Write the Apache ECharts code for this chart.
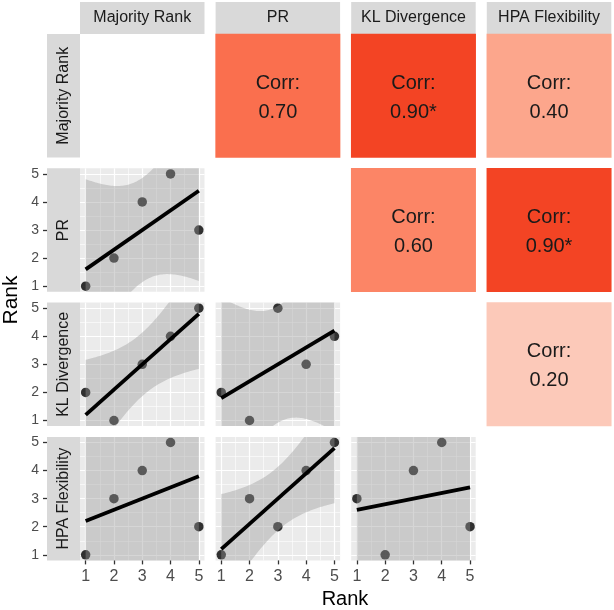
<!DOCTYPE html>
<html>
<head>
<meta charset="utf-8">
<script src="https://cdn.jsdelivr.net/npm/echarts@6/dist/echarts.min.js"></script>
<style>
  html, body { margin: 0; padding: 0; background: #fff; }
  #chart { width: 614px; height: 610px; }
</style>
</head>
<body>
<div id="chart"></div>
<script>
// rank given to each of the 5 configs by every method
const vars = ['Majority Rank', 'PR', 'KL Divergence', 'HPA Flexibility'];
const majority = [1, 2, 3, 4, 5];
const pr = [1, 2, 4, 5, 3];
const kl = [2, 1, 3, 4, 5];
const hpa = [1, 3, 4, 5, 2];
const rankTicks = [1, 2, 3, 4, 5];
const minorTicks = [1.5, 2.5, 3.5, 4.5];
const cols = [majority, pr, kl, hpa];

const T_CRIT = 3.182446; // qt(0.975, df = 3)
const FONT = 'Liberation Sans, Arial, sans-serif';

// panel layout (px)
const L0 = 80, T0 = 34, STEP_X = 135.6, STEP_Y = 134.3, PW = 124.5, PH = 123.5;

function mean(a) { return a.reduce((s, v) => s + v, 0) / a.length; }

function corr(x, y) {
  const mx = mean(x), my = mean(y);
  let sxy = 0, sxx = 0, syy = 0;
  for (let i = 0; i < x.length; i++) {
    sxy += (x[i] - mx) * (y[i] - my);
    sxx += (x[i] - mx) * (x[i] - mx);
    syy += (y[i] - my) * (y[i] - my);
  }
  return sxy / Math.sqrt(sxx * syy);
}

// lm(y ~ x) with 95% confidence band, like geom_smooth(method = "lm")
function lmFit(x, y) {
  const n = x.length, mx = mean(x), my = mean(y);
  let sxy = 0, sxx = 0;
  for (let i = 0; i < n; i++) {
    sxy += (x[i] - mx) * (y[i] - my);
    sxx += (x[i] - mx) * (x[i] - mx);
  }
  const b = sxy / sxx, a = my - b * mx;
  let sse = 0;
  for (let i = 0; i < n; i++) sse += Math.pow(y[i] - a - b * x[i], 2);
  const s = Math.sqrt(sse / (n - 2));
  const x0 = Math.min(...x), x1 = Math.max(...x);
  const band = [];
  for (let k = 0; k <= 80; k++) {
    const xv = x0 + (x1 - x0) * k / 80;
    const fv = a + b * xv;
    const se = s * Math.sqrt(1 / n + Math.pow(xv - mx, 2) / sxx);
    band.push([xv, fv - T_CRIT * se, fv + T_CRIT * se]);
  }
  return { line: [[x0, a + b * x0], [x1, a + b * x1]], band: band };
}

function stars(r, n) {
  const t = Math.abs(r) * Math.sqrt(n - 2) / Math.sqrt(1 - r * r);
  return t > T_CRIT ? '*' : '';
}

const option = {
  animation: false,
  grid: [], xAxis: [], yAxis: [], series: [], graphic: [],
  visualMap: {
    type: 'continuous', show: false, min: 0, max: 1, dimension: 2, seriesIndex: [],
    inRange: { color: ['#fdece4', '#fcc9b9', '#fca68c', '#fc8566', '#f85836', '#ee3012'] }
  }
};

const tickStyle = { show: true, length: 4, lineStyle: { color: '#333333', width: 1.3 } };

for (let r = 0; r < 4; r++) {
  for (let c = 0; c < 4; c++) {
    if (r === c) continue;
    const g = option.grid.length;
    const left = L0 + STEP_X * c, top = T0 + STEP_Y * r;
    if (r > c) {
      option.grid.push({ left: left, top: top, width: PW, height: PH, show: true,
        backgroundColor: '#ebebeb', borderWidth: 0 });
      const xi = option.xAxis.length, yi = option.yAxis.length;
      // major axes (ticks, labels, major grid lines)
      option.xAxis.push({
        gridIndex: g, type: 'value', min: 0.8, max: 5.2,
        axisLine: { show: false },
        axisTick: Object.assign({}, tickStyle, { show: r === 3, customValues: rankTicks }),
        axisLabel: { show: r === 3, customValues: rankTicks, color: '#4d4d4d', fontSize: 16,
          fontFamily: FONT, margin: 8 },
        splitLine: { show: true, lineStyle: { color: '#ffffff', width: 1.2 } }
      });
      option.yAxis.push({
        gridIndex: g, type: 'value', min: 0.8, max: 5.2, offset: 33,
        axisLine: { show: false },
        axisTick: Object.assign({}, tickStyle, { show: c === 0, customValues: rankTicks }),
        axisLabel: { show: c === 0, customValues: rankTicks, color: '#4d4d4d', fontSize: 14,
          fontFamily: FONT, margin: 8 },
        splitLine: { show: true, lineStyle: { color: '#ffffff', width: 1.2 } }
      });
      // minor grid lines
      option.xAxis.push({
        gridIndex: g, type: 'value', position: 'top', min: 0.8, max: 5.2,
        axisLine: { show: false }, axisLabel: { show: false },
        axisTick: { show: false, customValues: minorTicks },
        splitLine: { show: true, lineStyle: { color: '#ffffff', width: 0.6 } }
      });
      option.yAxis.push({
        gridIndex: g, type: 'value', position: 'right', min: 0.8, max: 5.2,
        axisLine: { show: false }, axisLabel: { show: false },
        axisTick: { show: false, customValues: minorTicks },
        splitLine: { show: true, lineStyle: { color: '#ffffff', width: 0.6 } }
      });

      const xs = cols[c], ys = cols[r];
      const f = lmFit(xs, ys);
      option.series.push({
        type: 'scatter', xAxisIndex: xi, yAxisIndex: yi, z: 2,
        data: xs.map((v, i) => [v, ys[i]]),
        symbolSize: 9.5, itemStyle: { color: '#000000' }, emphasis: { disabled: true }, silent: true
      });
      option.series.push({
        type: 'custom', xAxisIndex: xi, yAxisIndex: yi, z: 3, clip: true, silent: true,
        data: f.band,
        encode: { x: 0, y: [1, 2] },
        renderItem: function (params, api) {
          if (params.dataIndex !== 0) return null;
          const pts = [];
          f.band.forEach(p => pts.push(api.coord([p[0], p[2]])));
          for (let k = f.band.length - 1; k >= 0; k--) pts.push(api.coord([f.band[k][0], f.band[k][1]]));
          return { type: 'polygon', shape: { points: pts }, style: { fill: 'rgba(153,153,153,0.4)' } };
        }
      });
      option.series.push({
        type: 'line', xAxisIndex: xi, yAxisIndex: yi, z: 4, data: f.line,
        symbol: 'none', lineStyle: { color: '#000000', width: 3.8 }, silent: true
      });
    } else {
      option.grid.push({ left: left, top: top, width: PW, height: PH, show: false });
      const xi = option.xAxis.length, yi = option.yAxis.length;
      option.xAxis.push({ gridIndex: g, type: 'category', data: [''], show: false });
      option.yAxis.push({ gridIndex: g, type: 'category', data: [''], show: false });
      const rv = corr(cols[c], cols[r]);
      option.visualMap.seriesIndex.push(option.series.length);
      option.series.push({
        type: 'heatmap', xAxisIndex: xi, yAxisIndex: yi, silent: true,
        data: [[0, 0, rv]],
        emphasis: { disabled: true },
        label: {
          show: true, color: '#1a1a1a', fontSize: 20, lineHeight: 29, fontFamily: FONT, offset: [0, 2],
          formatter: p => 'Corr:\n' + p.value[2].toFixed(2) + stars(p.value[2], cols[0].length)
        }
      });
    }
  }
}

// facet strips
vars.forEach((name, i) => {
  const x = L0 + STEP_X * i;
  option.graphic.push({ type: 'rect', left: x, top: 2, shape: { width: PW, height: 32 },
    style: { fill: '#d9d9d9' }, silent: true });
  option.graphic.push({ type: 'text', x: x + PW / 2, y: 18,
    style: { text: name, fill: '#1a1a1a', font: '16px ' + FONT, textAlign: 'center', textVerticalAlign: 'middle' } });
  const y = T0 + STEP_Y * i;
  option.graphic.push({ type: 'rect', left: 47, top: y, shape: { width: 33, height: PH },
    style: { fill: '#d9d9d9' }, silent: true });
  option.graphic.push({ type: 'text', x: 63.5, y: y + PH / 2, rotation: Math.PI / 2,
    style: { text: name, fill: '#1a1a1a', font: '16px ' + FONT, textAlign: 'center', textVerticalAlign: 'middle' } });
});

// axis titles
option.graphic.push({ type: 'text', x: 345, y: 599,
  style: { text: 'Rank', fill: '#000000', font: '20px ' + FONT, textAlign: 'center', textVerticalAlign: 'middle' } });
option.graphic.push({ type: 'text', x: 11, y: 300, rotation: Math.PI / 2,
  style: { text: 'Rank', fill: '#000000', font: '21px ' + FONT, textAlign: 'center', textVerticalAlign: 'middle' } });

const chart = echarts.init(document.getElementById('chart'), null, { renderer: 'canvas' });
chart.setOption(option);
</script>
</body>
</html>
